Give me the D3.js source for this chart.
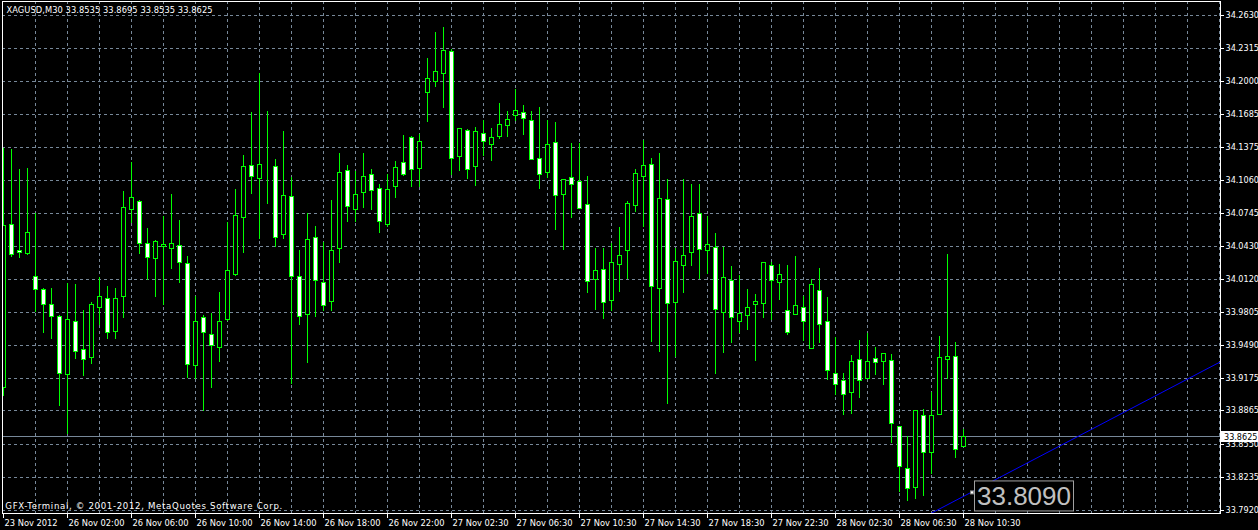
<!DOCTYPE html>
<html><head><meta charset="utf-8">
<script src="https://cdn.jsdelivr.net/npm/d3@7/dist/d3.min.js"></script>
<style>html,body{margin:0;padding:0;background:#000;overflow:hidden}svg{display:block}</style>
</head><body>
<svg id="c" width="1258" height="530"></svg>
<script>
const symbolTitle = "XAGUSD,M30  33.8535 33.8695 33.8535 33.8625";
const copyright = "GFX-Terminal, \u00A9 2001-2012, MetaQuotes Software Corp.";
const openP = [33.9096,34.0641,34.0397,34.0365,34.0147,34.0023,33.9880,33.9766,33.9214,33.9718,
33.9452,33.9382,33.9852,33.9937,33.9623,33.9956,34.0784,34.0860,34.0461,34.0318,
34.0432,34.0413,34.0442,34.0270,33.9300,33.9756,33.9595,33.9471,33.9737,34.0166,
34.0708,34.1203,34.1079,34.1203,34.1193,34.0546,34.0908,34.0147,33.9785,34.0518,
34.0089,33.9909,34.0413,34.1155,34.0784,34.0946,34.1117,34.0984,34.0641,34.1003,
34.1231,34.1469,34.1180,34.1903,34.2008,34.2078,34.2287,34.1288,34.1536,34.1193,
34.1507,34.1402,34.1479,34.1583,34.1678,34.1707,34.1631,34.1269,34.1136,34.1422,
34.0927,34.1089,34.1050,34.0832,34.0118,34.0213,33.9918,34.0261,34.0394,34.0822,
34.1098,34.1212,34.0032,34.0879,33.9899,34.0251,34.0375,34.0746,34.0394,34.0422,
33.9804,34.0109,33.9718,33.9775,33.9880,33.9890,34.0251,34.0089,33.9823,33.9785,
33.9852,33.9461,34.0013,33.9718,33.9224,33.9157,33.9043,33.9357,33.9176,33.9366,
33.9338,33.9347,33.8719,33.8320,33.8139,33.8824,33.8472,33.8833,33.9357,33.9385,
33.8535];
const highP = [34.1367,34.1358,34.1168,34.1174,34.0746,34.0032,34.0032,33.9778,34.0080,34.0073,
33.9826,33.9902,34.0137,34.0054,34.0032,34.0958,34.1231,34.0873,34.0609,34.0492,
34.0720,34.0930,34.0682,34.0340,33.9956,33.9778,33.9794,33.9994,34.0660,34.0974,
34.1298,34.1707,34.2078,34.1719,34.1260,34.1529,34.1094,34.0397,34.0746,34.0622,
34.0470,34.0870,34.1317,34.1203,34.1146,34.1317,34.1165,34.1022,34.1117,34.1241,
34.1488,34.1477,34.1498,34.2221,34.2468,34.2516,34.2306,34.1562,34.1545,34.1564,
34.1631,34.1555,34.1793,34.1717,34.1926,34.1774,34.1717,34.1755,34.1631,34.1612,
34.1077,34.1412,34.1412,34.1098,34.0413,34.0413,34.0461,34.0613,34.0860,34.1165,
34.1441,34.1269,34.1317,34.1069,34.0413,34.1069,34.1022,34.1022,34.0717,34.0556,
34.0422,34.0242,34.0156,34.0023,33.9975,34.0285,34.0280,34.0261,34.0251,34.0337,
33.9956,34.0118,34.0223,33.9947,33.9566,33.9224,33.9395,33.9538,33.9604,33.9471,
33.9414,33.9404,33.8719,33.8624,33.8872,33.8881,33.9043,33.9576,34.0359,33.9519,
33.8695];
const lowP = [33.9017,34.0340,34.0333,34.0359,33.9819,33.9619,33.9562,33.8922,33.8656,33.9366,
33.9207,33.9324,33.9690,33.9562,33.9562,33.9762,34.0666,34.0371,34.0121,33.9962,
33.9880,34.0228,34.0095,33.9191,33.9176,33.8874,33.9096,33.9343,33.9731,34.0159,
34.0381,34.0942,34.0508,34.0847,34.0438,34.0514,33.9134,33.9690,33.9328,33.9766,
33.9823,33.9823,34.0280,34.0676,34.0676,34.0809,34.0790,34.0571,34.0625,34.0898,
34.1110,34.1009,34.1009,34.1627,34.1960,34.1760,34.1123,34.1161,34.1085,34.1018,
34.1304,34.1250,34.1460,34.1479,34.1631,34.1498,34.1260,34.0984,34.1094,34.0594,
34.0403,34.0708,34.0794,33.9994,33.9833,33.9747,33.9823,34.0004,34.0133,34.0765,
34.0622,33.9528,33.9433,33.8938,33.9385,33.9994,34.0251,34.0128,34.0175,33.9224,
33.9429,33.9524,33.9619,33.9648,33.9353,33.9762,33.9743,33.9933,33.9595,33.9785,
33.9538,33.9461,33.9519,33.9166,33.9024,33.8833,33.8843,33.8995,33.9176,33.9214,
33.9119,33.8567,33.8101,33.8015,33.8034,33.8063,33.8272,33.8833,33.9176,33.8424,
33.8535];
const closeP = [34.0632,34.0356,34.0381,34.0565,34.0023,33.9880,33.9766,33.9224,33.9737,33.9433,
33.9357,33.9880,33.9956,33.9614,33.9937,34.0803,34.0898,34.0461,34.0327,34.0480,
34.0451,34.0461,34.0280,33.9309,33.9718,33.9614,33.9490,33.9718,34.0204,34.0727,
34.1193,34.1098,34.1212,34.1203,34.0518,34.0917,34.0147,33.9766,34.0499,34.0109,
33.9871,34.0394,34.1136,34.0813,34.0927,34.1098,34.0965,34.0670,34.0974,34.1184,
34.1117,34.1170,34.1431,34.2031,34.2097,34.2297,34.1269,34.1555,34.1165,34.1526,
34.1431,34.1469,34.1593,34.1640,34.1726,34.1650,34.1260,34.1117,34.1402,34.0917,
34.1069,34.1022,34.0794,34.0099,34.0204,33.9899,34.0280,34.0346,34.0841,34.1127,
34.1203,34.0051,34.0889,33.9890,34.0289,34.0346,34.0717,34.0403,34.0451,33.9833,
34.0137,33.9756,33.9794,33.9852,33.9909,34.0280,34.0109,34.0166,33.9614,33.9871,
33.9718,34.0070,33.9690,33.9252,33.9119,33.9024,33.9338,33.9157,33.9338,33.9328,
33.9414,33.8748,33.8339,33.8129,33.8872,33.8472,33.8824,33.9376,33.9385,33.8500,
33.8625];
const priceTicks = [34.2630,34.2315,34.2000,34.1685,34.1375,34.1060,34.0745,34.0430,34.0120,33.9805,33.9490,33.9175,33.8865,33.8550,33.8235,33.7920];
const timeTickBars = [0,8,16,24,32,40,48,56,64,72,80,88,96,104,112,120];
const timeTickLabels = ["23 Nov 2012","26 Nov 02:00","26 Nov 06:00","26 Nov 10:00","26 Nov 14:00","26 Nov 18:00","26 Nov 22:00","27 Nov 02:30","27 Nov 06:30","27 Nov 10:30","27 Nov 14:30","27 Nov 18:30","27 Nov 22:30","28 Nov 02:30","28 Nov 06:30","28 Nov 10:30"];
const bidPrice = 33.8625;
const trendBars = [121, 150];
const trendPrices = [33.8090, 33.9246];
const trendLabel = "33.8090";

const W = 1258, H = 530;
const L = 2, T = 1, R = 1220, B = 513;
const FONT = "'DejaVu Sans', sans-serif";
const GREEN = "#00ff00", GRID = "#778899";

const svg = d3.select("#c");
svg.append("rect").attr("width", W).attr("height", H).attr("fill", "#000");

const x = d3.scaleLinear().domain([0, 1]).range([3, 11]);
const y = d3.scaleLinear().domain([33.7920, 34.2630]).range([510.3, 15.3]);
const py = v => Math.round(y(v));

svg.append("defs").append("clipPath").attr("id", "clip")
  .append("rect").attr("x", L + 1).attr("y", T + 1).attr("width", R - L - 1).attr("height", B - T - 1);

const plot = svg.append("g").attr("clip-path", "url(#clip)");

// grid
const gridBars = d3.range(4, 153, 4);
plot.append("g").selectAll("line").data(gridBars).join("line")
  .attr("x1", d => x(d) + 0.5).attr("x2", d => x(d) + 0.5)
  .attr("y1", T).attr("y2", B)
  .attr("stroke", GRID).attr("stroke-dasharray", "3,3").attr("shape-rendering", "crispEdges");
plot.append("g").selectAll("line").data(priceTicks).join("line")
  .attr("x1", L).attr("x2", R)
  .attr("y1", d => Math.floor(y(d)) + 0.5).attr("y2", d => Math.floor(y(d)) + 0.5)
  .attr("stroke", GRID).attr("stroke-dasharray", "3,3").attr("shape-rendering", "crispEdges");

// bid line
plot.append("line").attr("x1", L).attr("x2", R)
  .attr("y1", Math.floor(y(bidPrice)) + 0.5).attr("y2", Math.floor(y(bidPrice)) + 0.5)
  .attr("stroke", GRID).attr("shape-rendering", "crispEdges");

// candles
const bars = openP.map((o, i) => ({ i, o, h: highP[i], l: lowP[i], c: closeP[i] }));
const cg = plot.append("g").attr("shape-rendering", "crispEdges");
cg.selectAll("line").data(bars).join("line")
  .attr("x1", d => x(d.i) + 0.5).attr("x2", d => x(d.i) + 0.5)
  .attr("y1", d => py(d.h)).attr("y2", d => py(d.l) + 1)
  .attr("stroke", GREEN);
cg.selectAll("rect").data(bars).join("rect")
  .attr("x", d => x(d.i) - 1.5).attr("width", 4)
  .attr("y", d => Math.min(py(d.o), py(d.c)) + 0.5)
  .attr("height", d => Math.abs(py(d.o) - py(d.c)))
  .attr("fill", d => d.c >= d.o ? "#000" : "#fff")
  .attr("stroke", GREEN);

// trend line
const tx = b => x(b);
const slope = (y(trendPrices[1]) - y(trendPrices[0])) / (tx(trendBars[1]) - tx(trendBars[0]));
const ty = xx => y(trendPrices[0]) + slope * (xx - tx(trendBars[0]));
plot.append("line").attr("x1", 880).attr("y1", ty(880)).attr("x2", R).attr("y2", ty(R))
  .attr("stroke", "#0000ff").attr("stroke-width", 1);

// price label object
const ax = tx(trendBars[0]), ay = y(trendPrices[0]);
svg.append("rect").attr("x", ax - 0.5).attr("y", ay - 1.5).attr("width", 3).attr("height", 3)
  .attr("fill", "#fff").attr("stroke", "#888");
svg.append("rect").attr("x", ax + 3.5).attr("y", ay - 11.5).attr("width", 99).attr("height", 30)
  .attr("fill", "#000").attr("stroke", "#a0a0a0");
svg.append("text").attr("x", ax + 6).attr("y", ay + 13)
  .attr("font-family", "'Liberation Sans', Arial, sans-serif").attr("font-size", 26)
  .attr("fill", "#c0c0c0").text(trendLabel);

// frame
svg.append("rect").attr("x", L + 0.5).attr("y", T + 0.5).attr("width", R - L).attr("height", B - T)
  .attr("fill", "none").attr("stroke", "#fff").attr("shape-rendering", "crispEdges");

// right price axis
const yAxis = d3.axisRight(y).tickValues(priceTicks).tickSize(3).tickPadding(2)
  .tickFormat(d => d.toFixed(4));
const yg = svg.append("g").attr("transform", `translate(${R + 0.5},0)`).call(yAxis);
yg.select(".domain").remove();
yg.selectAll(".tick").attr("transform", d => `translate(0,${Math.floor(y(d)) + 0.5})`);
yg.selectAll(".tick line").attr("stroke", "#fff").attr("shape-rendering", "crispEdges");
yg.selectAll(".tick text").attr("fill", "#fff").attr("font-family", FONT).attr("font-size", 8.1)
  .attr("dy", "0.34em");

// bid box
const by = Math.floor(y(bidPrice)) + 0.5;
svg.append("rect").attr("x", R + 1).attr("y", by - 5.5).attr("width", 37).attr("height", 11).attr("fill", "#fff");
svg.append("text").attr("x", R + 4).attr("y", by + 3.5).attr("fill", "#000")
  .attr("font-family", FONT).attr("font-size", 8.1).text(bidPrice.toFixed(4));

// bottom time axis
const xAxis = d3.axisBottom(x).tickValues(timeTickBars).tickSize(4).tickPadding(3)
  .tickFormat((d, i) => timeTickLabels[i]);
const xg = svg.append("g").attr("transform", `translate(0,${B + 0.5})`).call(xAxis);
xg.select(".domain").remove();
xg.selectAll(".tick").attr("transform", d => `translate(${x(d) + 0.5},0)`);
xg.selectAll(".tick line").attr("stroke", "#fff").attr("shape-rendering", "crispEdges");
xg.selectAll(".tick text").attr("fill", "#fff").attr("font-family", FONT).attr("font-size", 8.3)
  .attr("text-anchor", "start").attr("x", 1).attr("y", 12.5).attr("dy", 0);

// texts
svg.append("text").attr("x", 6.5).attr("y", 13.3).attr("fill", "#fff")
  .attr("font-family", FONT).attr("font-size", 8.3)
  .attr("textLength", 206).attr("lengthAdjust", "spacing").text(symbolTitle);
svg.append("text").attr("x", 5.3).attr("y", 509).attr("fill", "#fff")
  .attr("font-family", FONT).attr("font-size", 8.6)
  .attr("textLength", 277).attr("lengthAdjust", "spacing").text(copyright);
</script>
</body></html>
